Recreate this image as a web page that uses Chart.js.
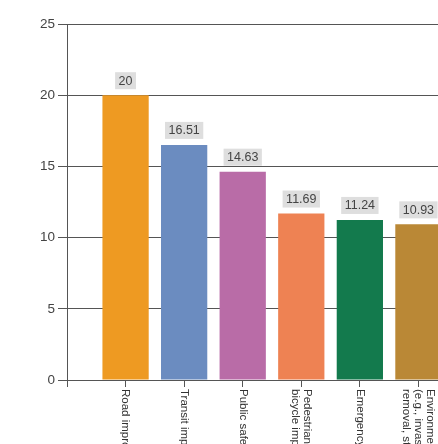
<!DOCTYPE html>
<html>
<head>
<meta charset="utf-8">
<script src="https://cdn.jsdelivr.net/npm/chart.js@4"></script>
<style>
  html, body { margin: 0; padding: 0; background: #fff; overflow: hidden; }
  #wrap { width: 438px; height: 444px; overflow: hidden; }
</style>
</head>
<body>
<div id="wrap">
  <canvas id="chart" width="477" height="444"></canvas>
</div>
<script>
// Chart data (the original picture is cropped on the right and bottom)
const categories = [
  ["Road improvements"],
  ["Transit improvements"],
  ["Public safety"],
  ["Pedestrian and", "bicycle improvements"],
  ["Emergency services"],
  ["Environment", "(e.g., invasive species", "removal, stormwater)"]
];
const values = [20, 16.51, 14.63, 11.69, 11.24, 10.93];
const barColors = ["#EE9A22", "#6B8CC0", "#B96CA7", "#EE8253", "#137A4D", "#BA8836"];
const yTicks = [0, 5, 10, 15, 20, 25];

// empty slot before and after so the bars sit one step in from the axis
const labels = [""].concat(categories.map(c => c.join(" ")), [""]);
const barData = [null].concat(values, [null]);
const colors = ["#fff"].concat(barColors, ["#fff"]);

// value boxes above the bars
const valueBoxes = {
  id: "valueBoxes",
  afterDatasetsDraw(chart) {
    const ctx = chart.ctx;
    const meta = chart.getDatasetMeta(0);
    ctx.save();
    ctx.font = "12.5px Arial";
    ctx.textAlign = "center";
    ctx.textBaseline = "middle";
    meta.data.forEach((bar, i) => {
      const v = barData[i];
      if (v === null) return;
      const text = String(v);
      const w = ctx.measureText(text).width + 7;
      const h = 17;
      const bottom = bar.y - 6;
      ctx.fillStyle = "#dedede";
      ctx.fillRect(bar.x - w / 2, bottom - h, w, h);
      ctx.fillStyle = "#444";
      ctx.fillText(text, bar.x, bottom - h / 2 + 0.5);
    });
    ctx.restore();
  }
};

// category labels, turned to read top to bottom
const sideLabels = {
  id: "sideLabels",
  afterDraw(chart) {
    const ctx = chart.ctx;
    const xScale = chart.scales.x;
    const lh = 12;
    ctx.save();
    ctx.font = "11.5px Arial";
    ctx.fillStyle = "#333";
    ctx.textAlign = "left";
    ctx.textBaseline = "middle";
    categories.forEach((lines, i) => {
      const x = xScale.getPixelForValue(i + 1);
      ctx.save();
      ctx.translate(x, chart.chartArea.bottom + 9);
      ctx.rotate(Math.PI / 2);
      lines.forEach((line, j) => {
        ctx.fillText(line, 0, (j - (lines.length - 1) / 2) * lh);
      });
      ctx.restore();
    });
    ctx.restore();
  }
};

new Chart(document.getElementById("chart").getContext("2d"), {
  type: "bar",
  data: {
    labels: labels,
    datasets: [{
      data: barData,
      backgroundColor: colors,
      borderWidth: 0,
      categoryPercentage: 0.79,
      barPercentage: 1
    }]
  },
  options: {
    responsive: false,
    animation: false,
    layout: { padding: { top: 24, left: 0, right: 0, bottom: 0 } },
    plugins: {
      legend: { display: false },
      tooltip: { enabled: false }
    },
    scales: {
      x: {
        type: "category",
        offset: false,
        grid: {
          offset: false,
          drawOnChartArea: false,
          drawTicks: true,
          tickLength: 7,
          color: "#555"
        },
        border: { display: true, color: "#555", width: 1 },
        ticks: { display: false },
        afterFit(scale) { scale.height = 64; }
      },
      y: {
        min: 0,
        max: 25,
        afterBuildTicks(scale) { scale.ticks = yTicks.map(v => ({ value: v })); },
        grid: {
          color: "#555",
          lineWidth: 1,
          drawTicks: true,
          tickLength: 9
        },
        border: { display: true, color: "#555", width: 1 },
        ticks: {
          font: { family: "Arial", size: 13.5 },
          color: "#444",
          padding: 3
        },
        afterFit(scale) { scale.width = 67; }
      }
    }
  },
  plugins: [valueBoxes, sideLabels]
});
</script>
</body>
</html>
